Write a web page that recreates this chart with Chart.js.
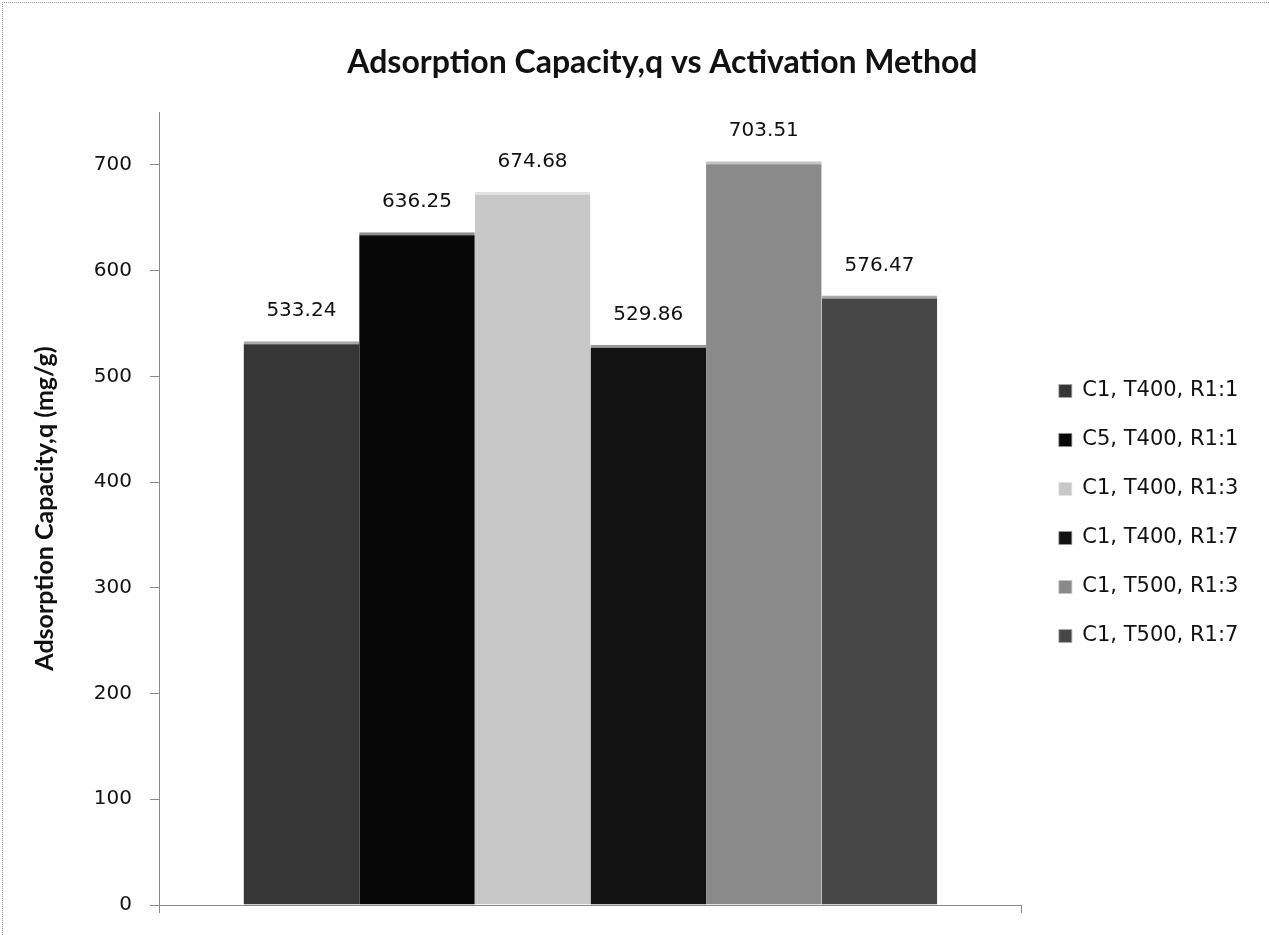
<!DOCTYPE html>
<html>
<head>
<meta charset="utf-8">
<title>Adsorption Capacity,q vs Activation Method</title>
<script src="https://cdn.jsdelivr.net/npm/chart.js@4.4.1/dist/chart.umd.min.js"></script>
<style>
  html, body { margin: 0; padding: 0; background: #ffffff; }
  #wrap { position: relative; width: 1269px; height: 935px; }
  #frame { position: absolute; left: 2px; top: 2px; right: 0; bottom: 0;
           border-left: 1px dotted #9a9a9a; border-top: 1px dotted #9a9a9a; pointer-events: none; }
  canvas { display: block; }
</style>
</head>
<body>
<div id="wrap">
  <canvas id="chart" width="1269" height="935"></canvas>
  <div id="frame"></div>
</div>
<script>
// Activation methods (one bar each) and their adsorption capacity in mg/g
const seriesLabels = [
  'C1, T400, R1:1',
  'C5, T400, R1:1',
  'C1, T400, R1:3',
  'C1, T400, R1:7',
  'C1, T500, R1:3',
  'C1, T500, R1:7'
];
const capacityValues = [533.24, 636.25, 674.68, 529.86, 703.51, 576.47];
const seriesColors = ['#363636', '#070707', '#c8c8c8', '#121212', '#8a8a8a', '#474747'];
const capColors = ['#a8a8a8', '#8c8c8c', '#e2e2e2', '#9a9a9a', '#c4c4c4', '#ababab'];
const categories = [''];
const yTickValues = [0, 100, 200, 300, 400, 500, 600, 700];

const chartTitle = 'Adsorption Capacity,q vs Activation Method';
const yAxisTitle = 'Adsorption Capacity,q (mg/g)';

const datasets = seriesLabels.map((label, i) => ({
  label: label,
  data: [capacityValues[i]],
  backgroundColor: seriesColors[i],
  borderColor: capColors[i],
  borderWidth: { top: 3, left: 0, right: 0, bottom: 0 },
  borderSkipped: 'bottom'
}));

// Value labels above each bar, taken from the bar's own value
const valueLabels = {
  id: 'valueLabels',
  afterDatasetsDraw(chart) {
    const ctx = chart.ctx;
    ctx.save();
    ctx.font = '20px "DejaVu Sans"';
    ctx.fillStyle = '#111111';
    ctx.textAlign = 'center';
    ctx.textBaseline = 'bottom';
    chart.data.datasets.forEach((ds, di) => {
      const meta = chart.getDatasetMeta(di);
      meta.data.forEach((bar, j) => {
        ctx.fillText(ds.data[j].toFixed(2), bar.x, bar.y - 20);
      });
    });
    ctx.restore();
  }
};

// Chart heading, placed a little right of the canvas centre
const heading = {
  id: 'heading',
  afterDraw(chart) {
    const ctx = chart.ctx;
    ctx.save();
    ctx.font = 'bold 32px Lato';
    ctx.fillStyle = '#111111';
    ctx.textAlign = 'center';
    ctx.textBaseline = 'middle';
    ctx.fillText(chartTitle, chart.width * 0.522, 63);
    ctx.restore();
  }
};

new Chart(document.getElementById('chart'), {
  type: 'bar',
  data: { labels: categories, datasets: datasets },
  plugins: [valueLabels, heading],
  options: {
    responsive: false,
    animation: false,
    layout: { padding: { left: 0, right: 32, top: 112, bottom: 20 } },
    datasets: {
      bar: { categoryPercentage: 0.804, barPercentage: 1.0 }
    },
    plugins: {
      tooltip: { enabled: false },
      title: { display: false },
      legend: {
        position: 'right',
        align: 'center',
        labels: {
          color: '#111111',
          font: { family: 'DejaVu Sans', size: 21 },
          boxWidth: 13,
          boxHeight: 13,
          padding: 28
        }
      }
    },
    scales: {
      x: {
        type: 'category',
        grid: { display: true, offset: true, drawOnChartArea: false, tickLength: 8, color: '#8a8a8a' },
        border: { display: true, color: '#8a8a8a' },
        ticks: { display: false },
        afterFit(scale) { scale.height = 8; }
      },
      y: {
        min: 0,
        max: 750,
        afterBuildTicks(scale) { scale.ticks = yTickValues.map(v => ({ value: v })); },
        grid: { display: true, drawOnChartArea: false, tickLength: 9, color: '#8a8a8a' },
        border: { display: true, color: '#8a8a8a' },
        ticks: {
          color: '#111111',
          font: { family: 'DejaVu Sans', size: 20 },
          padding: 18
        },
        title: {
          display: true,
          text: yAxisTitle,
          color: '#111111',
          font: { family: 'Lato', size: 25, weight: 'bold' },
          padding: { top: 30, bottom: 0 }
        },
        afterFit(scale) { scale.width = 159; }
      },
      gap: {
        type: 'linear',
        position: 'right',
        display: true,
        grid: { display: false },
        border: { display: false },
        ticks: { display: false },
        afterFit(scale) { scale.width = 9; }
      }
    }
  }
});
</script>
</body>
</html>
